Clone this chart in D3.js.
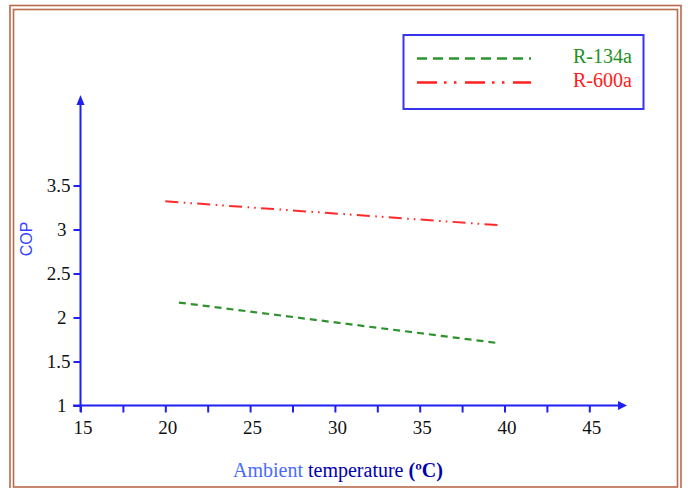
<!DOCTYPE html>
<html>
<head>
<meta charset="utf-8">
<script src="https://cdn.jsdelivr.net/npm/d3@7"></script>
<style>
  html, body { margin: 0; padding: 0; background: #fff; }
  svg { display: block; }
</style>
</head>
<body>
<svg id="chart" width="688" height="488"></svg>
<script>
// Refrigerant performance vs ambient temperature
const seriesNames = ["R-134a", "R-600a"];
const r134aTemp = [20.8, 39.6];
const r134aCop  = [2.17, 1.71];
const r600aTemp = [20.0, 39.6];
const r600aCop  = [3.32, 3.05];
const xTicks = [15, 17.5, 20, 22.5, 25, 27.5, 30, 32.5, 35, 37.5, 40, 42.5, 45];
const xLabels = [15, 20, 25, 30, 35, 40, 45];
const yTicks = [1, 1.5, 2, 2.5, 3, 3.5];

const svg = d3.select("#chart");
const axisBlue = "#1f1ff5";

// double brown frame
svg.append("rect").attr("x", 10).attr("y", 5.5).attr("width", 671).attr("height", 490)
  .attr("fill", "none").attr("stroke", "#b86a4c").attr("stroke-width", 1.6);
svg.append("rect").attr("x", 13.5).attr("y", 9.5).attr("width", 664).attr("height", 477.5)
  .attr("fill", "none").attr("stroke", "#b86a4c").attr("stroke-width", 1.6);

const x = d3.scaleLinear().domain([15, 45]).range([80.5, 589.3]);
const y = d3.scaleLinear().domain([1, 3.5]).range([405.5, 185.5]);

// axis lines with arrowheads
svg.append("line").attr("x1", x(15)).attr("y1", 412).attr("x2", x(15)).attr("y2", 104)
  .attr("stroke", axisBlue).attr("stroke-width", 2);
svg.append("path").attr("d", `M${x(15)},95 L${x(15) - 4},105 L${x(15) + 4},105 Z`).attr("fill", axisBlue);
svg.append("line").attr("x1", 73).attr("y1", y(1)).attr("x2", 619).attr("y2", y(1))
  .attr("stroke", axisBlue).attr("stroke-width", 2);
svg.append("path").attr("d", `M627,${y(1)} L618,${y(1) - 4.5} L618,${y(1) + 4.5} Z`).attr("fill", axisBlue);

// x axis
const gx = svg.append("g").attr("transform", `translate(0,${y(1)})`)
  .call(d3.axisBottom(x).tickValues(xTicks).tickSizeOuter(0).tickSizeInner(7).tickPadding(8)
    .tickFormat(d => xLabels.includes(d) ? d3.format("d")(d) : ""));
gx.select(".domain").remove();
gx.selectAll(".tick line").attr("stroke", axisBlue).attr("stroke-width", 2);
gx.selectAll(".tick text").attr("fill", "#111").attr("dx", 2)
  .style("font-family", "'Liberation Serif', 'Times New Roman', serif").style("font-size", "19px");

// y axis
const gy = svg.append("g").attr("transform", `translate(${x(15)},0)`)
  .call(d3.axisLeft(y).tickValues(yTicks).tickSizeOuter(0).tickSizeInner(7).tickPadding(3)
    .tickFormat(d => String(d)));
gy.select(".domain").remove();
gy.selectAll(".tick line").attr("stroke", axisBlue).attr("stroke-width", 2);
gy.selectAll(".tick text").attr("fill", "#111")
  .attr("dx", d => Number.isInteger(d) ? -4 : 0)
  .style("font-family", "'Liberation Serif', 'Times New Roman', serif").style("font-size", "19px");

// axis titles
svg.append("text").attr("transform", "translate(32,239) rotate(-90)")
  .attr("text-anchor", "middle").attr("fill", "#3340ff")
  .style("font-family", "'Liberation Sans', Arial, sans-serif").style("font-size", "16px")
  .text("COP");
const xt = svg.append("text").attr("x", 233).attr("y", 477)
  .style("font-family", "'Liberation Serif', 'Times New Roman', serif").style("font-size", "20px");
xt.append("tspan").attr("fill", "#4a6aff").text("Ambient ");
xt.append("tspan").attr("fill", "#0000b0").text("temperature ");
xt.append("tspan").attr("fill", "#0000b0").attr("font-weight", "bold").text("(ºC)");

// data lines
const line = d3.line().x(d => x(d[0])).y(d => y(d[1]));
const r134a = r134aTemp.map((t, i) => [t, r134aCop[i]]);
const r600a = r600aTemp.map((t, i) => [t, r600aCop[i]]);
svg.append("path").datum(r134a).attr("d", line).attr("fill", "none")
  .attr("stroke", "#2e922e").attr("stroke-width", 2.2).attr("stroke-dasharray", "7,5");
svg.append("path").datum(r600a).attr("d", line).attr("fill", "none")
  .attr("stroke", "#ff2a2a").attr("stroke-width", 2).attr("stroke-dasharray", "13,5.5,1.6,5,1.6,5.3");

// legend
svg.append("rect").attr("x", 403.5).attr("y", 35).attr("width", 240).attr("height", 74)
  .attr("fill", "#fff").attr("stroke", "#3535f0").attr("stroke-width", 2);
const legendRows = [
  { name: seriesNames[0], color: "#2e922e", dash: "10,6", text: "#239023" },
  { name: seriesNames[1], color: "#ff2020", dash: "20,7,2.5,7.5,2.5,8.5", text: "#ff2020" }
];
legendRows.forEach((r, i) => {
  const ly = 58.5 + i * 24;
  svg.append("line").attr("x1", 417).attr("x2", 531).attr("y1", ly).attr("y2", ly)
    .attr("stroke", r.color).attr("stroke-width", 2.6).attr("stroke-dasharray", r.dash);
  svg.append("text").attr("x", 573).attr("y", ly + 4)
    .attr("fill", r.text)
    .style("font-family", "'Liberation Serif', 'Times New Roman', serif").style("font-size", "20px")
    .text(r.name);
});
</script>
</body>
</html>
